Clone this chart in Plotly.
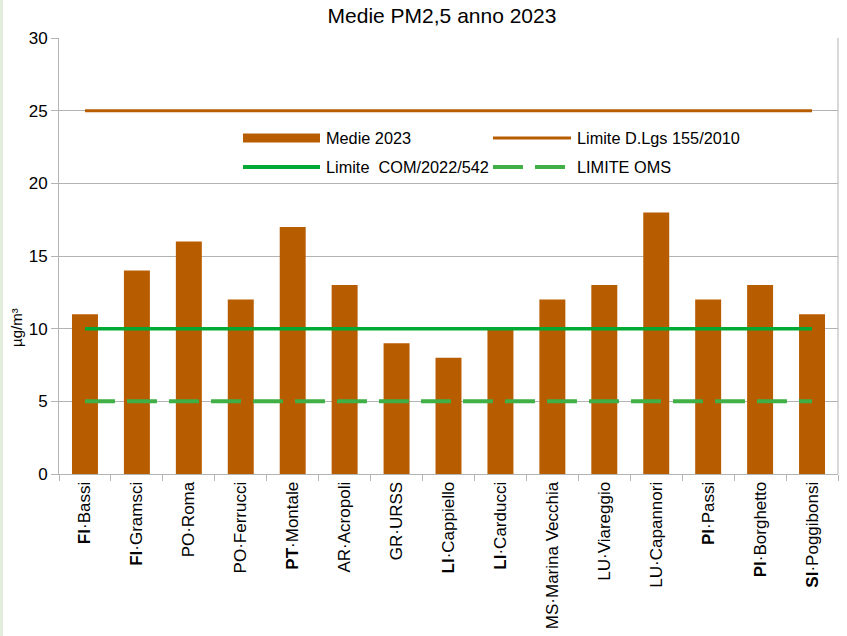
import plotly.graph_objects as go

# Stazioni di monitoraggio (etichette asse x) e medie annue PM2,5 2023 (µg/m³)
stazioni = [
    "<b>FI</b>·Bassi", "<b>FI</b>·Gramsci", "PO·Roma", "PO·Ferrucci",
    "<b>PT</b>·Montale", "AR·Acropoli", "GR·URSS", "<b>LI</b>·Cappiello",
    "<b>LI</b>·Carducci", "MS·Marina Vecchia", "LU·Viareggio",
    "LU·Capannori", "<b>PI</b>·Passi", "<b>PI</b>·Borghetto",
    "<b>SI</b>·Poggibonsi",
]
medie_2023 = [11, 14, 16, 12, 17, 13, 9, 8, 10, 12, 13, 18, 12, 13, 11]

# Valori limite
limite_dlgs = 25      # D.Lgs 155/2010
limite_com = 10       # COM/2022/542
limite_oms = 5        # OMS

y_ticks = [0, 5, 10, 15, 20, 25, 30]

ARANCIO = "#b85c00"
VERDE = "#00a933"
VERDE_OMS = "#3faf46"
GRIGIO = "#b3b3b3"

W, H = 847, 636
ML, MR, MT, MB = 59, 9, 38, 162
PW, PH = W - ML - MR, H - MT - MB

fig = go.Figure()
fig.add_trace(go.Bar(x=stazioni, y=medie_2023, marker_color=ARANCIO,
                     marker_line_width=0, width=0.5, name="Medie 2023"))
fig.add_trace(go.Scatter(x=stazioni, y=[limite_dlgs] * len(stazioni), mode="lines",
                         line=dict(color=ARANCIO, width=3), name="Limite D.Lgs 155/2010"))
fig.add_trace(go.Scatter(x=stazioni, y=[limite_com] * len(stazioni), mode="lines",
                         line=dict(color=VERDE, width=3.5), name="Limite  COM/2022/542"))
fig.add_trace(go.Scatter(x=stazioni, y=[limite_oms] * len(stazioni), mode="lines",
                         line=dict(color=VERDE_OMS, width=4, dash="30px,12px"),
                         name="LIMITE OMS"))


def px(x):
    return (x - ML) / PW


def py(y):
    return (H - MB - y) / PH


# Legenda disegnata a mano all'interno dell'area del grafico
shapes = []
annotations = []
voci = [
    (243, 320, 138, ARANCIO, 9, None, "Medie 2023"),
    (493, 571, 138, ARANCIO, 3, None, "Limite D.Lgs 155/2010"),
    (243, 320, 167, VERDE, 4, None, "Limite  COM/2022/542"),
    (493, 571, 167, VERDE_OMS, 4, "dash", "LIMITE OMS"),
]
for x0, x1, yc, col, lw, dash, testo in voci:
    if dash:
        for a, b in [(493, 523), (535, 565)]:
            shapes.append(dict(type="line", xref="paper", yref="paper",
                               x0=px(a), x1=px(b), y0=py(yc), y1=py(yc),
                               line=dict(color=col, width=lw)))
    else:
        shapes.append(dict(type="line", xref="paper", yref="paper",
                           x0=px(x0), x1=px(x1), y0=py(yc), y1=py(yc),
                           line=dict(color=col, width=lw)))
    annotations.append(dict(xref="paper", yref="paper", x=px(x1 + 4), y=py(yc),
                            xanchor="left", yanchor="middle", showarrow=False,
                            text=testo, font=dict(size=16.3, color="#000")))

# Bordo destro dell'area del grafico
shapes.append(dict(type="line", xref="paper", yref="paper", x0=1, x1=1, y0=0, y1=1,
                   line=dict(color=GRIGIO, width=1)))
# Sottile fascia verde chiaro sul bordo sinistro
shapes.append(dict(type="rect", xref="paper", yref="paper",
                   x0=px(0), x1=px(3), y0=py(H), y1=py(0),
                   line=dict(width=0), fillcolor="#e2eedb", layer="below"))

annotations.append(dict(xref="paper", yref="paper", x=px(16), y=py(328),
                        xanchor="center", yanchor="middle",
                        text="µg/m³", textangle=-90, showarrow=False,
                        font=dict(size=15, color="#000")))

fig.update_layout(
    width=W, height=H,
    margin=dict(l=ML, r=MR, t=MT, b=MB),
    paper_bgcolor="white", plot_bgcolor="white",
    font=dict(family="Liberation Sans, Arial, sans-serif", color="#000"),
    title=dict(text="Medie PM2,5 anno 2023", x=442 / W, xanchor="center",
               y=1 - 16 / H, yanchor="middle", font=dict(size=21, color="#000")),
    showlegend=False,
    bargap=0.5,
    shapes=shapes,
    annotations=annotations,
    xaxis=dict(tickangle=-90, tickfont=dict(size=17), showgrid=False, automargin=False,
               showline=True, linecolor=GRIGIO, ticks="outside", tickson="boundaries",
               ticklen=6, tickcolor=GRIGIO, range=[-0.5, len(stazioni) - 0.5]),
    yaxis=dict(range=[0, 30], tickvals=y_ticks, tickfont=dict(size=17), automargin=False,
               showgrid=True, gridcolor=GRIGIO, showline=True, linecolor=GRIGIO,
               ticks="outside", ticklen=7, tickcolor=GRIGIO, zeroline=False),
)

fig.write_html("out.html")
